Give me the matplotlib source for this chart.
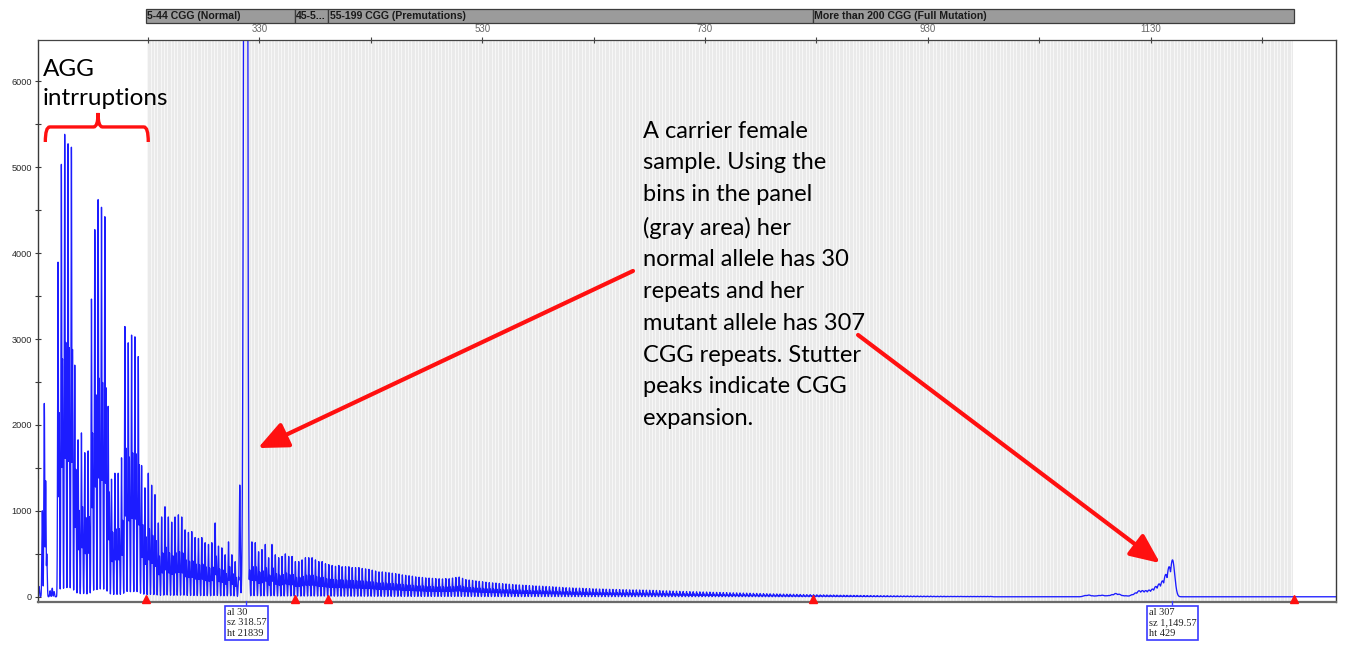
import numpy as np
import matplotlib
matplotlib.use('Agg')
import matplotlib.pyplot as plt
import matplotlib.transforms as mtransforms
from matplotlib.patches import Rectangle, PathPatch
from matplotlib.path import Path

# fragment size axis (bp) and signal axis (rfu)
size_min, size_max = 131.7, 1296.3
rfu_min, rfu_max = -55, 6480

# early (primer side) peaks
lead_sizes = [132.4, 135.3, 137.1, 138.3, 139.3, 142.3, 144.2, 145.9]
lead_heights = [120, 1000, 2250, 1350, 500, 70, 100, 60]

# repeat-primed ladder: one peak every CGG (3 bp), heights in rfu
ladder_start = 149.4
ladder_step = 3.0
ladder_heights = [
    3900, 5040, 5390, 5280, 5240, 2700, 1830, 1910, 1680, 1700,
    3470, 4280, 4630, 4540, 4430, 2220, 1370, 1440, 1440, 1620,
    3150, 2960, 3050, 3030, 2800, 1530, 1270, 1440, 1300, 1190,
    860, 930, 1050, 930, 870, 930, 955, 930, 780, 750,
    760, 690, 680, 690, 630, 610, 630, 860, 590, 570,
    490, 640, 490, 410, 230, 0, 0, 570, 640, 630,
    525, 550, 610, 455, 610, 490, 455, 470, 500, 470,
    470, 410, 410, 430, 455, 455, 455, 430, 410, 410,
    385, 375, 365, 355, 365, 350, 350, 350, 340, 340,
    340, 330, 325, 320, 310, 300, 290, 290, 285, 280,
    275, 270, 265, 255, 250, 245, 240, 232, 228, 225,
    220, 218, 215, 212, 210, 208, 212, 210, 218, 225,
    230, 215, 200, 195, 190, 185, 180, 175, 170, 165,
    162, 160, 155, 152, 150, 146, 143, 140, 138, 135,
    133, 130, 128, 125, 124, 122, 120, 118, 116, 113,
    110, 108, 106, 104, 102, 100, 100, 98, 96, 95,
    93, 92, 90, 90, 88, 87, 86, 85, 84, 83,
    82, 81, 80, 80, 79, 78, 77, 76, 75, 74,
    72, 70, 69, 68, 66, 65, 63, 62, 61, 60,
    59, 58, 57, 56, 55, 54, 52, 51, 50, 49,
    48, 47, 46, 45, 44, 43, 42, 41, 40, 39,
    38, 37, 36, 35, 34, 33, 32, 31, 30, 30,
    29, 28, 27, 26, 25, 25, 24, 23, 22, 22,
    21, 20, 20, 19, 18, 18, 17, 17, 16, 16,
    15, 15, 14, 14, 13, 13, 12, 12, 12, 11,
    11, 11, 10, 10, 10, 9, 9, 9, 8, 8,
    8, 8, 7, 7, 7, 7, 6, 6, 6, 6,
    6, 5, 5, 5, 5, 5, 5, 5, 5, 5,
]
shoulder_offset = 1.0   # -A shoulder sits 1 bp after each ladder peak
shoulder_ratio = 0.55

# normal allele (30 CGG) with its stutter
allele_sizes = [312.5, 316.6, 318.57]
allele_heights = [1300, 9000, 21839]
allele_widths = [0.45, 0.9, 0.8]

# expanded allele (307 CGG) hump
full_sizes = [1071.57, 1074.57, 1077.57, 1080.57, 1083.57, 1086.57, 1089.57,
              1092.57, 1095.57, 1098.57, 1101.57, 1104.57, 1107.57, 1110.57,
              1113.57, 1116.57, 1119.57, 1122.57, 1125.57, 1128.57, 1131.57,
              1134.57, 1137.57, 1140.57, 1143.57, 1146.57, 1149.57]
full_heights = [15, 20, 12, 10, 15, 18, 12, 15, 25, 38, 30, 15, 12, 10,
                25, 45, 70, 72, 72, 78, 90, 120, 150, 185, 260, 350, 429]

# panel bins and category bar
band_edges = [228.5, 362.0, 392.0, 827.0, 1258.5]
band_labels = ['5-44 CGG (Normal)', '45-5...', '55-199 CGG (Premutations)',
               'More than 200 CGG (Full Mutation)']
bin_start, bin_end = 229.5, 1258.0

major_ticks = [330, 530, 730, 930, 1130]
minor_ticks = [230, 430, 630, 830, 1030, 1230]

allele_calls = [
    (318.57, 'al 30\nsz 318.57\nht 21839'),
    (1149.57, 'al 307\nsz 1,149.57\nht 429'),
]

note_lines = ['A carrier female', 'sample. Using the', 'bins in the panel',
              '(gray area) her', 'normal allele has 30', 'repeats and her',
              'mutant allele has 307', 'CGG repeats. Stutter',
              'peaks indicate CGG', 'expansion.']

trace_blue = '#1c1cff'


def peak_trace(x, sizes, heights, width):
    widths = np.broadcast_to(width, np.shape(sizes))
    y = np.zeros_like(x)
    for s, h, w in zip(sizes, heights, widths):
        near = np.abs(x - s) < 6 * w
        y[near] = np.maximum(y[near], h * np.exp(-0.5 * ((x[near] - s) / w) ** 2))
    return y


size_axis = np.arange(size_min, size_max, 0.04)
ladder_sizes = ladder_start + ladder_step * np.arange(len(ladder_heights))
ladder_h = np.array(ladder_heights, dtype=float)

signal = peak_trace(size_axis, lead_sizes, lead_heights, 0.4)
signal = np.maximum(signal, peak_trace(size_axis, ladder_sizes, ladder_h, 0.36))
signal = np.maximum(signal, peak_trace(size_axis, ladder_sizes + shoulder_offset,
                                       ladder_h * shoulder_ratio, 0.38))
signal = np.maximum(signal, peak_trace(size_axis, allele_sizes, allele_heights,
                                       allele_widths))
signal = np.maximum(signal, peak_trace(size_axis, full_sizes, full_heights, 2.0))

fig = plt.figure(figsize=(13.46, 6.45), dpi=100)
ax = fig.add_axes([0.02845, 0.06744, 0.96411, 0.87054])
ax.set_xlim(size_min, size_max)
ax.set_ylim(rfu_min, rfu_max)

# gray bin area with per-repeat bin edges
ax.axvspan(bin_start, bin_end, color='#eaeaea', lw=0, zorder=0)
ax.vlines(np.arange(bin_start, bin_end, 3.0), rfu_min, rfu_max,
          color='#f8f8f8', lw=0.7, zorder=0.5)

ax.plot(size_axis, signal, color=trace_blue, lw=0.95, zorder=2)

# axes styling
for side in ['left', 'right', 'bottom']:
    ax.spines[side].set_color('#3a3a3a')
    ax.spines[side].set_linewidth(1.0)
ax.spines['bottom'].set_linewidth(1.6)
ax.spines['bottom'].set_color('#6a6a6a')
ax.spines['top'].set_color('#444444')
ax.spines['top'].set_linestyle((0, (2, 1)))
ax.spines['top'].set_linewidth(0.9)

ax.xaxis.tick_top()
ax.set_xticks(major_ticks)
ax.set_xticks(minor_ticks, minor=True)
ax.set_xticklabels([str(t) for t in major_ticks])
ax.tick_params(axis='x', which='both', direction='inout', length=5, width=0.8,
               color='#444444', labelsize=7, labelcolor='#666666', pad=1.5,
               top=True, bottom=False)
ax.set_yticks(range(0, 7000, 1000))
ax.set_yticks(range(500, 6500, 1000), minor=True)
ax.tick_params(axis='y', which='both', direction='inout', length=5, width=0.8,
               color='#3a3a3a', labelsize=6.6, labelcolor='#2a2a2a', pad=2)
for lab in ax.get_xticklabels() + ax.get_yticklabels():
    lab.set_family('Liberation Sans')

# category bar above the axes
band_tf = mtransforms.blended_transform_factory(ax.transData, ax.transAxes)
for x0, x1, lab in zip(band_edges[:-1], band_edges[1:], band_labels):
    ax.add_patch(Rectangle((x0, 1.0308), x1 - x0, 0.0239, transform=band_tf,
                           fc='#9b9b9b', ec='#3c3c3c', lw=0.9, clip_on=False))
    ax.text(x0 + 1.2, 1.0427, lab, transform=band_tf, fontsize=7.6,
            fontweight='bold', family='Liberation Sans', color='#1a1a1a',
            va='center', ha='left', clip_on=False)

# bin boundary markers on the baseline
ax.plot(band_edges, [0.005] * len(band_edges), transform=band_tf, ls='none',
        marker='^', ms=5.5, color='#ff1010', clip_on=False, zorder=5)

# allele call boxes under the axis
for size, txt in allele_calls:
    ax.annotate(txt, xy=(size, 0), xycoords=('data', 'axes fraction'),
                xytext=(0, -4.5), textcoords='offset points', ha='center', va='top',
                multialignment='left', fontsize=7.5, family='Liberation Serif',
                color='#222222', linespacing=1.2,
                bbox=dict(boxstyle='square,pad=0.2', fc='white', ec='#3a3aff', lw=1.2),
                arrowprops=dict(arrowstyle='-', color='#3a3aff', lw=1.0,
                                shrinkA=0, shrinkB=0),
                annotation_clip=False)

# AGG interruption brace
x0, x1, xm = 138.0, 230.4, 185.3
y_end, y_bar, y_tip = 5293, 5468, 5631
r = 4.0
brace = Path(
    [(x0, y_end), (x0, y_bar), (x0 + r, y_bar), (xm - r, y_bar),
     (xm, y_bar), (xm, y_tip), (xm, y_bar), (xm + r, y_bar),
     (x1 - r, y_bar), (x1, y_bar), (x1, y_end)],
    [Path.MOVETO, Path.CURVE3, Path.CURVE3, Path.LINETO,
     Path.CURVE3, Path.CURVE3, Path.CURVE3, Path.CURVE3,
     Path.LINETO, Path.CURVE3, Path.CURVE3])
ax.add_patch(PathPatch(brace, fc='none', ec='#ff1010', lw=2.4,
                       capstyle='butt', zorder=4))
ax.text(135.5, 6260, 'AGG\nintrruptions', fontsize=17.5, family='Lato',
        color='black', va='top', ha='left', linespacing=1.45, zorder=4)

ax.text(674.4, 5540, '\n'.join(note_lines), fontsize=17, family='Lato',
        color='black', va='top', ha='left', linespacing=1.63, zorder=4)

# arrows to the two alleles
arrow_kw = dict(arrowstyle='-|>,head_length=0.9,head_width=0.4', color='#ff1010',
                lw=3.0, mutation_scale=20, shrinkA=0, shrinkB=0)
ax.annotate('', xy=(328.9, 1731), xytext=(665.4, 3792), arrowprops=arrow_kw,
            zorder=4)
ax.annotate('', xy=(1138.4, 392), xytext=(867.4, 3047), arrowprops=arrow_kw,
            zorder=4)

fig.savefig('out.png', dpi=100)
